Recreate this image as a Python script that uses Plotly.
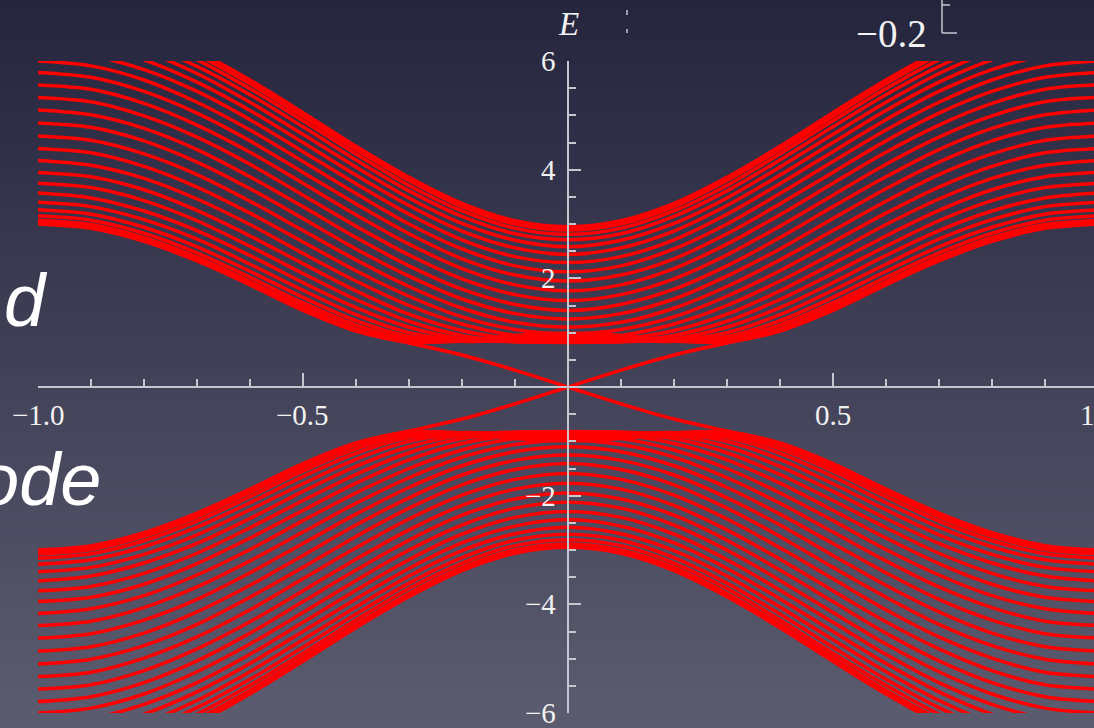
import plotly.graph_objects as go

# Momentum samples on the half zone k >= 0 (units of pi); the spectrum is mirrored in k and E.
K_HALF = [0.0, 0.1, 0.2, 0.3, 0.4, 0.5, 0.6, 0.7, 0.8, 0.9, 1.0]

# Bulk sub-bands of the strip, E >= 0 branch, one row per sub-band.
BANDS = [
    [0.99, 0.95, 0.85, 0.83, 1.04, 1.43, 1.89, 2.34, 2.70, 2.94, 3.02],
    [0.97, 0.93, 0.85, 0.85, 1.07, 1.48, 1.94, 2.39, 2.75, 2.99, 3.07],
    [0.94, 0.90, 0.84, 0.88, 1.14, 1.55, 2.02, 2.47, 2.83, 3.07, 3.15],
    [0.90, 0.87, 0.84, 0.93, 1.22, 1.65, 2.13, 2.58, 2.94, 3.18, 3.26],
    [0.86, 0.85, 0.86, 1.00, 1.33, 1.78, 2.26, 2.72, 3.08, 3.32, 3.40],
    [0.83, 0.83, 0.89, 1.10, 1.46, 1.92, 2.42, 2.88, 3.24, 3.48, 3.57],
    [0.82, 0.84, 0.95, 1.21, 1.61, 2.09, 2.59, 3.06, 3.43, 3.67, 3.75],
    [0.83, 0.88, 1.04, 1.34, 1.77, 2.27, 2.78, 3.25, 3.63, 3.87, 3.95],
    [0.89, 0.95, 1.16, 1.50, 1.95, 2.46, 2.99, 3.46, 3.84, 4.08, 4.17],
    [0.98, 1.06, 1.29, 1.67, 2.14, 2.67, 3.20, 3.68, 4.06, 4.31, 4.39],
    [1.10, 1.19, 1.45, 1.85, 2.34, 2.88, 3.42, 3.91, 4.29, 4.54, 4.62],
    [1.25, 1.35, 1.62, 2.04, 2.54, 3.10, 3.65, 4.14, 4.53, 4.78, 4.86],
    [1.41, 1.52, 1.80, 2.23, 2.75, 3.32, 3.87, 4.37, 4.76, 5.01, 5.10],
    [1.59, 1.70, 1.99, 2.43, 2.96, 3.53, 4.10, 4.60, 4.99, 5.25, 5.33],
    [1.77, 1.88, 2.18, 2.63, 3.17, 3.75, 4.32, 4.82, 5.22, 5.48, 5.56],
    [1.95, 2.06, 2.36, 2.82, 3.37, 3.95, 4.53, 5.04, 5.44, 5.70, 5.79],
    [2.12, 2.23, 2.54, 3.00, 3.56, 4.15, 4.73, 5.24, 5.65, 5.91, 6.00],
    [2.29, 2.40, 2.71, 3.18, 3.74, 4.33, 4.92, 5.44, 5.84, 6.10, 6.19],
    [2.44, 2.56, 2.87, 3.34, 3.90, 4.50, 5.09, 5.61, 6.02, 6.28, 6.37],
    [2.58, 2.70, 3.01, 3.48, 4.05, 4.65, 5.24, 5.77, 6.18, 6.44, 6.53],
    [2.71, 2.82, 3.14, 3.61, 4.18, 4.79, 5.38, 5.90, 6.32, 6.58, 6.67],
    [2.81, 2.92, 3.24, 3.71, 4.29, 4.90, 5.49, 6.02, 6.43, 6.70, 6.79],
    [2.89, 3.00, 3.32, 3.80, 4.37, 4.98, 5.58, 6.11, 6.52, 6.79, 6.88],
    [2.95, 3.06, 3.38, 3.86, 4.43, 5.05, 5.65, 6.18, 6.59, 6.86, 6.95],
]

# Edge-state branch for k >= 0 (crosses zero at k = 0, then joins the band bottom).
EDGE = [0.00, 0.31, 0.59, 0.81, 1.03, 1.41, 1.88, 2.32, 2.68, 2.92, 3.00]

X_TICKS = [-1.0, -0.5, 0.5, 1.0]
X_TICK_TEXT = ["\u22121.0", "\u22120.5", "0.5", "1.0"]
Y_TICKS = [-6, -4, -2, 2, 4, 6]
Y_TICK_TEXT = ["\u22126", "\u22124", "\u22122", "2", "4", "6"]

W, H = 1094, 728
ML, MR, MT, MB = 38, 0, 61, 15
X_RANGE = [-1.0, 0.9925]
Y_RANGE = [-6.0, 6.0]

RED = "#ff0000"
AXIS = "#c6c6cf"
LABEL = "#f2f2f2"
SERIF = "Liberation Serif, Times New Roman, serif"
SANS = "Liberation Sans, Arial, sans-serif"

k_full = [-k for k in reversed(K_HALF[1:])] + K_HALF


def even(vals):
    return list(reversed(vals[1:])) + list(vals)


def odd(vals):
    return [-v for v in reversed(vals[1:])] + list(vals)


xs_up, ys_up, xs_dn, ys_dn = [], [], [], []
for band in BANDS:
    e = even(band)
    xs_up += k_full + [None]
    ys_up += e + [None]
    xs_dn += k_full + [None]
    ys_dn += [-v for v in e] + [None]

edge_a = odd(EDGE)
edge_b = [-v for v in edge_a]

fig = go.Figure()
line = dict(color=RED, width=3.5, shape="spline", smoothing=0.9)
fig.add_trace(go.Scatter(x=xs_up, y=ys_up, mode="lines", line=line, hoverinfo="skip"))
fig.add_trace(go.Scatter(x=xs_dn, y=ys_dn, mode="lines", line=line, hoverinfo="skip"))
fig.add_trace(go.Scatter(x=k_full, y=edge_a, mode="lines", line=line, hoverinfo="skip"))
fig.add_trace(go.Scatter(x=k_full, y=edge_b, mode="lines", line=line, hoverinfo="skip"))


def px_x(p):
    return (p - ML) / (W - ML - MR)


def px_y(p):
    return (H - MB - p) / (H - MT - MB)


def data_to_px_x(v):
    return ML + (v - X_RANGE[0]) / (X_RANGE[1] - X_RANGE[0]) * (W - ML - MR)


# Vertical background gradient built from thin horizontal bands.
top_rgb = (37, 38, 62)
bot_rgb = (92, 92, 112)
n_strips = 91
shapes = []
for i in range(n_strips):
    t = i / (n_strips - 1)
    col = tuple(round(a + (b - a) * t) for a, b in zip(top_rgb, bot_rgb))
    y0 = i * H / n_strips
    y1 = (i + 1) * H / n_strips + 1
    shapes.append(dict(
        type="rect", xref="paper", yref="paper", layer="below",
        x0=px_x(-5), x1=px_x(W + 5), y0=px_y(y1), y1=px_y(y0),
        line=dict(width=0), fillcolor="rgb(%d,%d,%d)" % col,
    ))

# Corner of the neighbouring panel above, plus its small dashed marker.
for (xa, ya, xb, yb) in [(942, -2, 942, 33), (942, 33, 957, 33), (942, 5, 950, 5),
                         (627, 10, 627, 15), (627, 29, 627, 33)]:
    shapes.append(dict(
        type="line", xref="paper", yref="paper", layer="above",
        x0=px_x(xa), y0=px_y(ya), x1=px_x(xb), y1=px_y(yb),
        line=dict(color=AXIS, width=1.5),
    ))

annotations = []
for v, t in zip(X_TICKS, X_TICK_TEXT):
    annotations.append(dict(
        x=px_x(data_to_px_x(v)), y=-0.52, xref="paper", yref="y", text=t, showarrow=False,
        xanchor="center", yanchor="middle", font=dict(family=SERIF, size=29, color=LABEL),
    ))
for v, t in zip(Y_TICKS, Y_TICK_TEXT):
    annotations.append(dict(
        x=px_x(558), y=v, xref="paper", yref="y", text=t, showarrow=False,
        xanchor="right", yanchor="middle", font=dict(family=SERIF, size=29, color=LABEL),
    ))
annotations.append(dict(
    x=px_x(568), y=px_y(24), xref="paper", yref="paper", text="<i>E</i>", showarrow=False,
    xanchor="center", yanchor="middle", font=dict(family=SERIF, size=33, color=LABEL),
))
annotations.append(dict(
    x=px_x(929), y=px_y(34), xref="paper", yref="paper", text="\u22120.2", showarrow=False,
    xanchor="right", yanchor="middle", font=dict(family=SERIF, size=39, color=LABEL),
))
annotations.append(dict(
    x=px_x(50), y=px_y(300), xref="paper", yref="paper", text="<i>d</i>", showarrow=False,
    xanchor="right", yanchor="middle", font=dict(family=SANS, size=74, color="#ffffff"),
))
annotations.append(dict(
    x=px_x(103), y=px_y(480), xref="paper", yref="paper", text="<i>ode</i>", showarrow=False,
    xanchor="right", yanchor="middle", font=dict(family=SANS, size=74, color="#ffffff"),
))

x_minor = [round(-1 + 0.1 * i, 1) for i in range(21)]
x_minor = [v for v in x_minor if v not in (-1.0, -0.5, 0.0, 0.5, 1.0)]
y_minor = [v * 0.5 for v in range(-12, 13) if v % 4 != 0]

fig.update_layout(
    width=W, height=H,
    margin=dict(l=ML, r=MR, t=MT, b=MB, pad=0),
    paper_bgcolor="rgb(65,65,88)",
    plot_bgcolor="rgba(0,0,0,0)",
    showlegend=False,
    shapes=shapes,
    annotations=annotations,
    xaxis=dict(
        range=X_RANGE, anchor="free", position=0.5, side="bottom",
        showgrid=False, zeroline=False, showline=True, linecolor=AXIS, linewidth=1.5,
        tickmode="array", tickvals=X_TICKS, showticklabels=False,
        ticks="inside", ticklen=13, tickwidth=1.5, tickcolor=AXIS,
        minor=dict(tickmode="array", tickvals=x_minor, ticks="inside", ticklen=7,
                   tickwidth=1.5, tickcolor=AXIS, showgrid=False),
        fixedrange=True,
    ),
    yaxis=dict(
        range=Y_RANGE, anchor="free", position=px_x(568), side="left",
        showgrid=False, zeroline=False, showline=True, linecolor=AXIS, linewidth=1.5,
        tickmode="array", tickvals=Y_TICKS, showticklabels=False,
        ticks="inside", ticklen=12, tickwidth=1.5, tickcolor=AXIS,
        minor=dict(tickmode="array", tickvals=y_minor, ticks="inside", ticklen=7,
                   tickwidth=1.5, tickcolor=AXIS, showgrid=False),
        fixedrange=True,
    ),
)

fig.write_html("out.html", config={"displayModeBar": False})
